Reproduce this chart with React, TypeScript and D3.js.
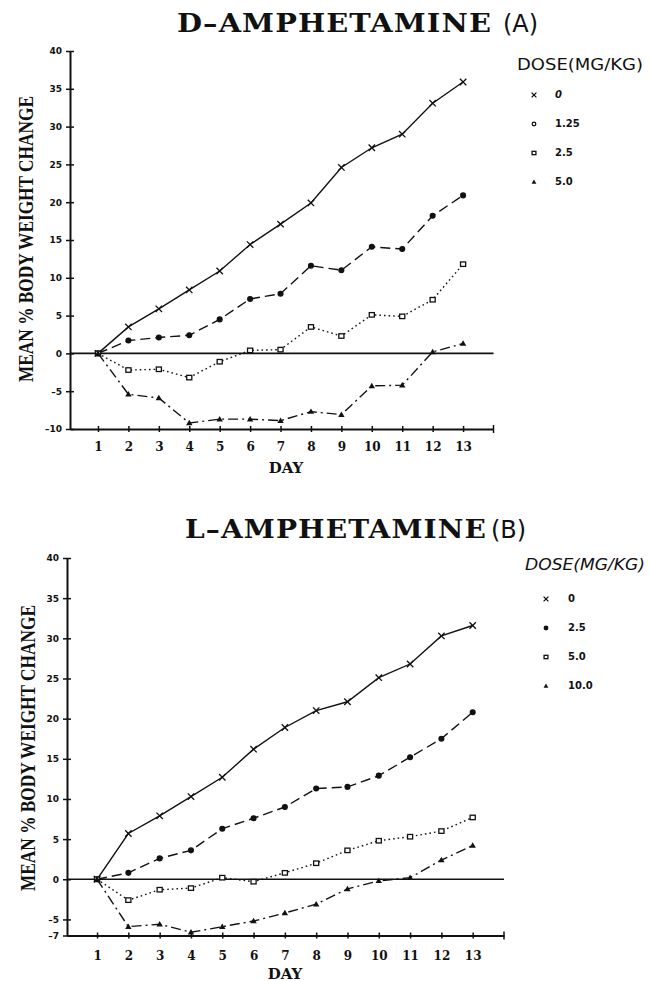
import React, { useEffect, useRef } from 'react'
import * as d3 from 'd3'

const days = [1, 2, 3, 4, 5, 6, 7, 8, 9, 10, 11, 12, 13]

// panel A: d-amphetamine
const dosesA = ['0', '1.25', '2.5', '5.0']
const dAmph0 = [0, 3.5, 5.9, 8.4, 10.9, 14.4, 17.1, 19.9, 24.6, 27.2, 29.0, 33.1, 35.9]
const dAmph125 = [0, 1.7, 2.1, 2.4, 4.5, 7.2, 7.9, 11.6, 11.0, 14.1, 13.8, 18.2, 20.9]
const dAmph25 = [0, -2.2, -2.1, -3.2, -1.1, 0.4, 0.5, 3.5, 2.3, 5.1, 4.9, 7.1, 11.8]
const dAmph5 = [0, -5.4, -5.9, -9.2, -8.7, -8.7, -8.9, -7.7, -8.1, -4.3, -4.2, 0.2, 1.3]
const yTicksA = [40, 35, 30, 25, 20, 15, 10, 5, 0, -5, -10]

// panel B: l-amphetamine
const dosesB = ['0', '2.5', '5.0', '10.0']
const lAmph0 = [0, 5.7, 7.9, 10.3, 12.7, 16.2, 18.9, 21.0, 22.1, 25.1, 26.8, 30.3, 31.6]
const lAmph25 = [0, 0.8, 2.6, 3.6, 6.3, 7.6, 9.0, 11.3, 11.5, 12.9, 15.2, 17.5, 20.8]
const lAmph5 = [0, -2.6, -1.3, -1.1, 0.2, -0.3, 0.8, 2.0, 3.6, 4.8, 5.3, 6.0, 7.7]
const lAmph10 = [0, -5.9, -5.6, -6.6, -5.9, -5.2, -4.2, -3.1, -1.2, -0.2, 0.2, 2.4, 4.2]
const yTicksB = [40, 35, 30, 25, 20, 15, 10, 5, 0, -5, -7]

const markers = ['cross', 'circle', 'square', 'triangle']
const dashes = [null, '10,5', '1.6,3', '10,4,2,4']

const drawMarker = (g, kind, cx, cy, s, filledCircle) => {
  if (kind === 'cross') {
    g.append('path')
      .attr('d', `M${cx - s},${cy - s}L${cx + s},${cy + s}M${cx - s},${cy + s}L${cx + s},${cy - s}`)
      .attr('stroke', '#111')
      .attr('stroke-width', 1.3)
  } else if (kind === 'circle') {
    g.append('circle')
      .attr('cx', cx)
      .attr('cy', cy)
      .attr('r', s * 0.75)
      .attr('fill', filledCircle ? '#111' : '#fff')
      .attr('stroke', '#111')
      .attr('stroke-width', 1.3)
  } else if (kind === 'square') {
    g.append('rect')
      .attr('x', cx - s * 0.8)
      .attr('y', cy - s * 0.7)
      .attr('width', s * 1.6)
      .attr('height', s * 1.4)
      .attr('fill', '#fff')
      .attr('stroke', '#111')
      .attr('stroke-width', 1.3)
  } else {
    g.append('path')
      .attr('d', `M${cx},${cy - s}L${cx + s},${cy + s * 0.7}L${cx - s},${cy + s * 0.7}Z`)
      .attr('fill', '#111')
  }
}

const drawPanel = (svg, p) => {
  const g = svg.append('g')
  const x = d3.scaleLinear().domain(p.xDomain).range(p.xRange)
  const y = d3.scaleLinear().domain(p.yDomain).range(p.yRange)

  // title
  g.append('text')
    .attr('x', p.titleX)
    .attr('y', p.titleY)
    .attr('textLength', p.titleLen)
    .attr('lengthAdjust', 'spacingAndGlyphs')
    .style('font-family', '"DejaVu Serif", serif')
    .style('font-size', '26px')
    .style('font-weight', 'bold')
    .style('letter-spacing', '1px')
    .attr('fill', '#111')
    .text(p.title)
  g.append('text')
    .attr('x', p.tagX)
    .attr('y', p.titleY)
    .style('font-family', '"DejaVu Sans", sans-serif')
    .style('font-size', '24px')
    .attr('fill', '#111')
    .text(p.tag)

  // y axis
  const yAxis = d3.axisLeft(y).tickValues(p.yTicks).tickSize(4).tickPadding(4).tickSizeOuter(0)
  g.append('g')
    .attr('transform', `translate(${p.xRange[0]},0)`)
    .call(yAxis)
    .call((a) => a.select('.domain').attr('stroke', '#111').attr('stroke-width', 2))
    .call((a) => a.selectAll('.tick line').attr('x1', 4).attr('x2', -4).attr('stroke', '#111').attr('stroke-width', 1.5))
    .call((a) =>
      a.selectAll('.tick text')
        .style('font-family', '"DejaVu Sans", sans-serif')
        .style('font-size', '9px')
        .style('font-weight', 'bold')
        .attr('fill', '#111')
        .text((d) => (d < 0 ? `\u2013${-d}` : d))
    )

  // x axis
  const xAxis = d3.axisBottom(x).tickValues(days).tickSize(3).tickSizeOuter(0)
  g.append('g')
    .attr('transform', `translate(0,${p.yRange[0]})`)
    .call(xAxis)
    .call((a) => a.select('.domain').attr('stroke', '#111').attr('stroke-width', 2))
    .call((a) => a.selectAll('.tick line').attr('y1', -3).attr('y2', 3).attr('stroke', '#111').attr('stroke-width', 1.5))
    .call((a) =>
      a.selectAll('.tick text')
        .attr('y', p.dayLabelDy)
        .attr('dy', 0)
        .style('font-family', '"DejaVu Serif", serif')
        .style('font-size', '12px')
        .style('font-weight', 'bold')
        .attr('fill', '#111')
    )
  g.append('line')
    .attr('x1', p.xRange[1])
    .attr('x2', p.xRange[1])
    .attr('y1', p.yRange[0] - 4)
    .attr('y2', p.yRange[0] + 4)
    .attr('stroke', '#111')
    .attr('stroke-width', 1.5)

  // zero line
  g.append('line')
    .attr('x1', p.xRange[0])
    .attr('x2', p.xRange[1])
    .attr('y1', y(0))
    .attr('y2', y(0))
    .attr('stroke', '#111')
    .attr('stroke-width', 1.6)

  // axis titles
  g.append('text')
    .attr('x', p.dayX)
    .attr('y', p.yRange[0] + p.dayDy)
    .attr('text-anchor', 'middle')
    .style('font-family', '"DejaVu Serif", serif')
    .style('font-size', '15px')
    .style('font-weight', 'bold')
    .attr('fill', '#111')
    .text('DAY')
  g.append('text')
    .attr('transform', `translate(${p.ylabX},${p.ylabY}) rotate(-90)`)
    .attr('text-anchor', 'middle')
    .attr('textLength', 286)
    .attr('lengthAdjust', 'spacingAndGlyphs')
    .style('font-family', '"Liberation Serif", serif')
    .style('font-size', '22px')
    .style('font-weight', 'bold')
    .attr('fill', '#111')
    .text('MEAN % BODY WEIGHT CHANGE')

  // series
  const line = d3
    .line()
    .x((d, i) => x(days[i]))
    .y((d) => y(d))
  p.series.forEach((vals, si) => {
    g.append('path')
      .datum(vals)
      .attr('d', line)
      .attr('fill', 'none')
      .attr('stroke', '#111')
      .attr('stroke-width', 1.4)
      .attr('stroke-dasharray', dashes[si])
    vals.forEach((v, i) => drawMarker(g, markers[si], x(days[i]), y(v), 3.2, true))
  })

  // legend
  g.append('text')
    .attr('x', p.legX)
    .attr('y', p.legY)
    .attr('textLength', p.legLen)
    .attr('lengthAdjust', 'spacingAndGlyphs')
    .style('font-family', '"DejaVu Sans", sans-serif')
    .style('font-size', '16px')
    .style('font-style', p.legItalic ? 'italic' : 'normal')
    .attr('fill', '#111')
    .text('DOSE(MG/KG)')
  p.doses.forEach((d, i) => {
    const ly = p.legY + p.legRow0 + i * p.legStep
    drawMarker(g, markers[i], p.legX + p.legMarkDx, ly - 3, 2.4, p.legCircleFilled)
    g.append('text')
      .attr('x', p.legX + p.legTextDx)
      .attr('y', ly)
      .style('font-family', '"DejaVu Sans", sans-serif')
      .style('font-size', '10px')
      .style('font-weight', 'bold')
      .style('font-style', i === 0 && !p.legItalic ? 'italic' : 'normal')
      .attr('fill', '#111')
      .text(d)
  })
}

const AmphetamineCharts = () => {
  const svgRef = useRef(null)

  useEffect(() => {
    if (svgRef.current) {
      const svg = d3.select(svgRef.current)
      svg.selectAll('*').remove()

      drawPanel(svg, {
        title: 'D\u2013AMPHETAMINE',
        tag: '(A)',
        titleX: 177,
        titleY: 32,
        titleLen: 315,
        tagX: 503,
        xDomain: [0.08, 14],
        xRange: [70, 493.5],
        yDomain: [-10, 40],
        yRange: [429, 51],
        yTicks: yTicksA,
        series: [dAmph0, dAmph125, dAmph25, dAmph5],
        dayLabelDy: 22,
        dayX: 286,
        dayDy: 44,
        ylabX: 33,
        ylabY: 239,
        doses: dosesA,
        legX: 517,
        legY: 70,
        legLen: 126,
        legRow0: 28,
        legStep: 29,
        legMarkDx: 17,
        legTextDx: 38,
        legItalic: false,
        legCircleFilled: false,
      })

      drawPanel(svg, {
        title: 'L\u2013AMPHETAMINE',
        tag: '(B)',
        titleX: 185,
        titleY: 538,
        titleLen: 302,
        tagX: 491,
        xDomain: [0.04, 14],
        xRange: [67, 504],
        yDomain: [-7, 40],
        yRange: [935.5, 558],
        yTicks: yTicksB,
        series: [lAmph0, lAmph25, lAmph5, lAmph10],
        dayLabelDy: 24,
        dayX: 285,
        dayDy: 43,
        ylabX: 35,
        ylabY: 748,
        doses: dosesB,
        legX: 525,
        legY: 570,
        legLen: 120,
        legRow0: 32,
        legStep: 29,
        legMarkDx: 21,
        legTextDx: 43,
        legItalic: true,
        legCircleFilled: true,
      })
    }
  }, [])

  return (
    <svg
      ref={svgRef}
      width={650}
      height={981}
      style={{ position: 'absolute', left: 0, top: 0, background: '#fff' }}
    ></svg>
  )
}

export default function App() {
  return <AmphetamineCharts />
}
